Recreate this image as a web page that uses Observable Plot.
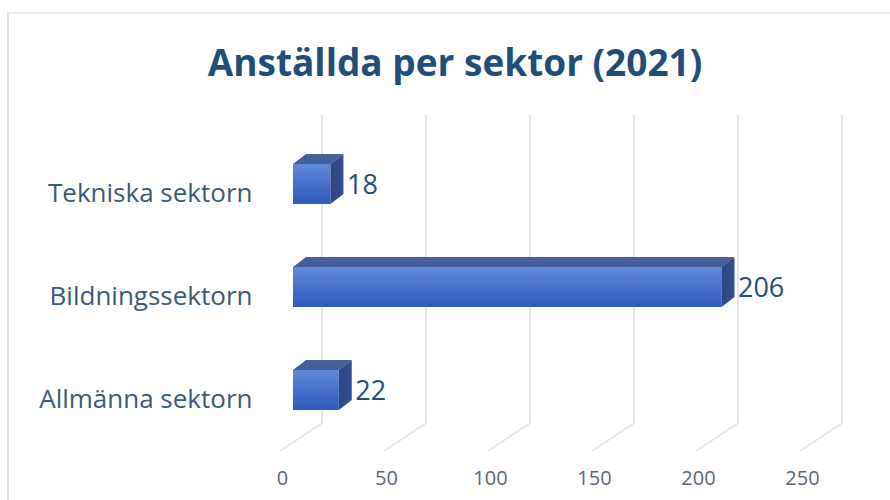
<!DOCTYPE html>
<html><head><meta charset="utf-8">
<script src="https://cdn.jsdelivr.net/npm/d3@7"></script>
<script src="https://cdn.jsdelivr.net/npm/@observablehq/plot@0.6"></script>
<style>
body{margin:0;background:#fff;}
#wrap{position:relative;width:890px;height:500px;overflow:hidden;background:#fff;}
#frame{position:absolute;left:7px;top:12px;width:900px;height:600px;border-left:2px solid #dfe3ea;border-top:2px solid #e8ebf0;}
#title{position:absolute;left:0;width:910px;top:36px;text-align:center;font-family:"Open Sans";font-weight:bold;font-size:37px;color:#1f4e79;line-height:normal;}
#chart{position:absolute;left:0;top:0;}
</style></head><body>
<div id="wrap"><div id="frame"></div><div id="chart"></div><div id="title">Anställda per sektor (2021)</div></div>
<script>
const categories = ["Tekniska sektorn", "Bildningssektorn", "Allmänna sektorn"];
const values = [18, 206, 22];
const xTicks = [0, 50, 100, 150, 200, 250];
const data = categories.map((c, i) => ({sektor: c, antal: values[i]}));

// 3D look (pixel offsets)
const DX = 13, DY = 10;          // bar depth
const WALL_DX = 29;              // back wall offset of gridlines
const FLOOR_DX = -13, FLOOR_DY = 28; // floor diagonal

function grid(index, scales, channels, dims) {
  const g = d3.create("svg:g").attr("stroke", "#d9dee7").attr("stroke-width", 1.5).attr("fill", "none");
  const yt = dims.marginTop, yb = dims.height - dims.marginBottom;
  for (const t of xTicks) {
    const x = scales.x(t);
    g.append("path").attr("d", `M${x + WALL_DX},${yt}V${yb}L${x + FLOOR_DX},${yb + FLOOR_DY}`);
  }
  return g.node();
}

function faces(index, scales, channels, dims) {
  const g = d3.create("svg:g");
  let bw = scales.y.bandwidth;
  bw = typeof bw === "function" ? bw() : (bw ?? 40);
  for (const d of data) {
    const x0 = scales.x(0), x1 = scales.x(d.antal), y0 = scales.y(d.sektor), y1 = y0 + bw;
    g.append("path").attr("fill", "url(#topGrad)")
      .attr("d", `M${x0},${y0}L${x0 + DX},${y0 - DY}L${x1 + DX},${y0 - DY}L${x1},${y0}Z`);
    g.append("path").attr("fill", "url(#sideGrad)")
      .attr("d", `M${x1},${y0}L${x1 + DX},${y0 - DY}L${x1 + DX},${y1 - DY}L${x1},${y1}Z`);
  }
  return g.node();
}

const chart = Plot.plot({
  width: 890, height: 500,
  marginLeft: 293, marginRight: 77, marginTop: 115, marginBottom: 77,
  style: {fontFamily: "Open Sans", background: "transparent"},
  x: {domain: [0, 250]},
  y: {domain: categories, range: [132, 442], paddingInner: 0.614, paddingOuter: 0.307},
  marks: [
    grid,
    Plot.barX(data, {x: "antal", y: "sektor", fill: "url(#frontGrad)"}),
    faces,
    Plot.text(data, {x: "antal", y: "sektor", text: d => String(d.antal), textAnchor: "start",
      dx: 16, dy: 1, fontSize: 27, fill: "#1f4e79"}),
    Plot.axisX({ticks: xTicks, tickSize: 0, tickPadding: 47, dx: -11, fontSize: 20, color: "#5b6576", label: null}),
    Plot.axisY({tickSize: 0, tickPadding: 41, dy: 9, fontSize: 26, color: "#3a5a7c", label: null})
  ]
});

d3.select(chart).insert("defs", ":first-child").html(`
  <linearGradient id="frontGrad" x1="0" y1="0" x2="0" y2="1">
    <stop offset="0" stop-color="#5f89d8"/><stop offset="1" stop-color="#2d5abd"/>
  </linearGradient>
  <linearGradient id="topGrad" x1="0" y1="0" x2="0" y2="1">
    <stop offset="0" stop-color="#4a6296"/><stop offset="1" stop-color="#3f5c9c"/>
  </linearGradient>
  <linearGradient id="sideGrad" x1="0" y1="0" x2="1" y2="0">
    <stop offset="0" stop-color="#2a4688"/><stop offset="1" stop-color="#34508f"/>
  </linearGradient>`);

document.getElementById("chart").appendChild(chart);
</script>
</body></html>
